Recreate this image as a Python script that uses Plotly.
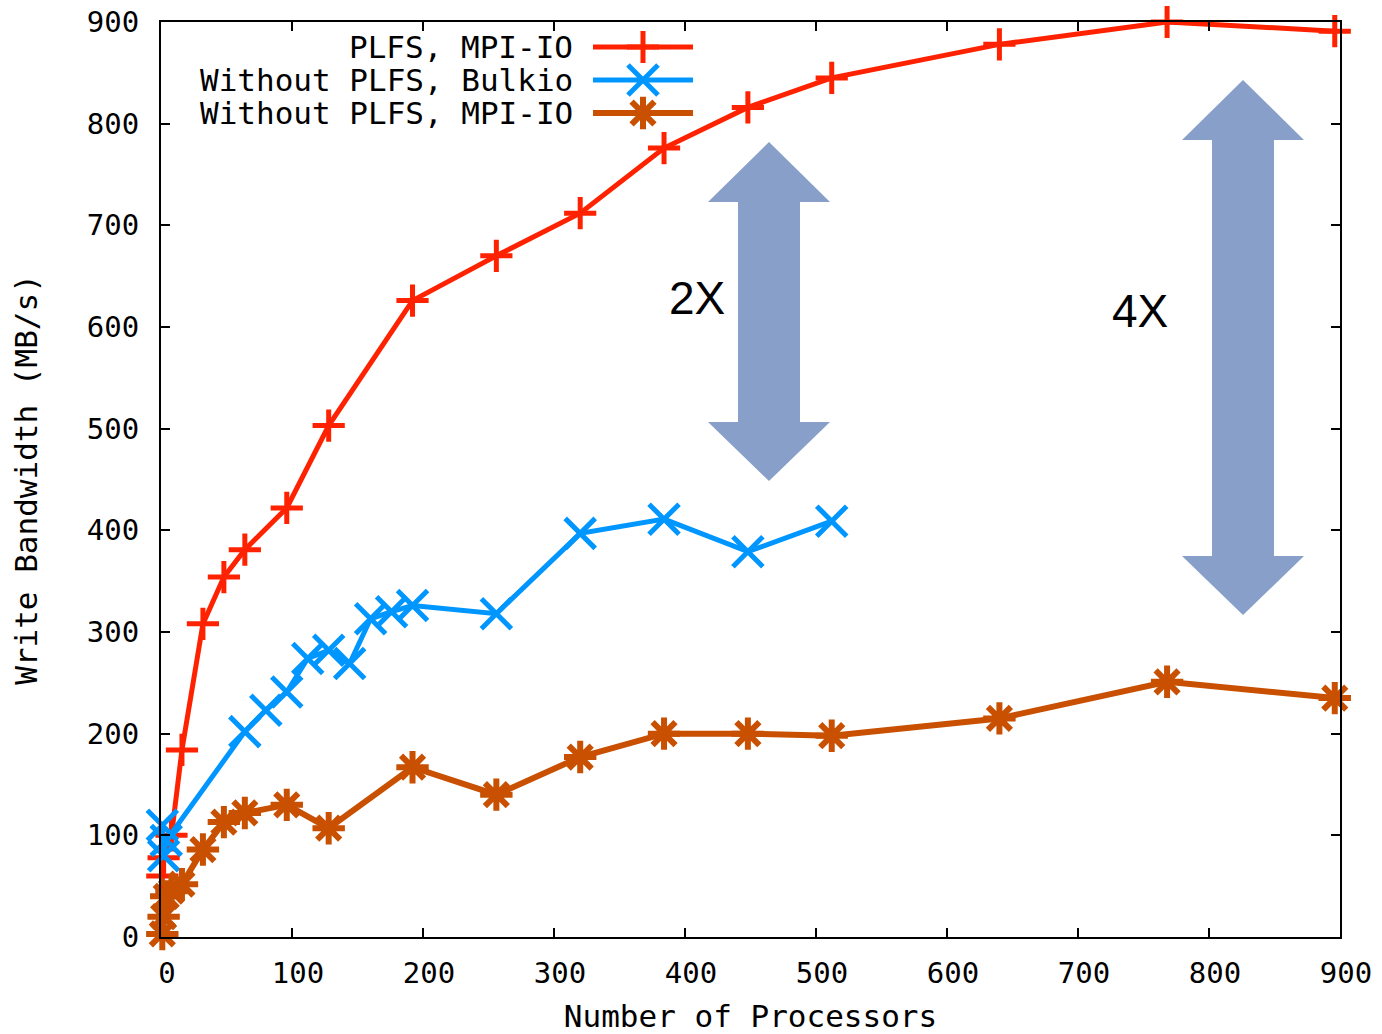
import plotly.graph_objects as go

# ---------------- data ----------------
plfs_procs = [1, 2, 8, 16, 32, 48, 64, 96, 128, 192, 256, 320, 384, 448, 512, 640, 768, 896]
plfs_bw = [60, 78, 100, 184, 308, 354, 381, 422, 503, 626, 670, 712, 776, 816, 845, 878, 900, 891]

bulkio_procs = [1, 2, 4, 64, 80, 96, 112, 128, 144, 160, 176, 192, 256, 320, 384, 448, 512]
bulkio_bw = [110, 80, 95, 202, 223, 241, 274, 282, 269, 313, 320, 326, 318, 397, 411, 379, 409]

mpiio_procs = [1, 2, 4, 8, 16, 32, 48, 64, 96, 128, 192, 256, 320, 384, 448, 512, 640, 768, 896]
mpiio_bw = [3, 20, 40, 45, 52, 86, 113, 122, 130, 107, 167, 140, 177, 200, 200, 198, 215, 251, 235]

series_names = ["PLFS, MPI-IO", "Without PLFS, Bulkio", "Without PLFS, MPI-IO"]
tick_vals = [0, 100, 200, 300, 400, 500, 600, 700, 800, 900]
x_title = "Number of Processors"
y_title = "Write Bandwidth (MB/s)"
ratio_labels = ["2X", "4X"]

# ---------------- styles ----------------
RED = "#ff2200"
BLUE = "#0096ff"
ORANGE = "#c85000"
ARROW = "#879fc9"
MONO = "DejaVu Sans Mono"

W, H = 1382, 1034
L, R, T, B = 161, 1340, 22, 937   # plot area in pixels


def px(xp):
    return (xp - L) / (R - L)


def py(yp):
    return (B - yp) / (B - T)


styles = [
    dict(color=RED, symbol="cross-thin", size=23, lw=5),
    dict(color=BLUE, symbol="x-thin", size=30, lw=5),
    dict(color=ORANGE, symbol="asterisk", size=27, lw=6),
]
datasets = [(plfs_procs, plfs_bw), (bulkio_procs, bulkio_bw), (mpiio_procs, mpiio_bw)]

fig = go.Figure()
for (xs, ys), name, st in zip(datasets, series_names, styles):
    fig.add_trace(go.Scatter(
        x=xs, y=ys, mode="lines+markers", name=name,
        line=dict(color=st["color"], width=st["lw"]),
        marker=dict(symbol=st["symbol"], size=st["size"],
                    line=dict(color=st["color"], width=st["lw"])),
        cliponaxis=False, showlegend=False,
    ))

# ---------------- custom legend (text left of sample, like gnuplot) ----------------
legend_rows = [47, 80, 113]
for name, st, row in zip(series_names, styles, legend_rows):
    fig.add_trace(go.Scatter(
        x=[px(593), px(643), px(693)], y=[py(row)] * 3,
        mode="lines", line=dict(color=st["color"], width=st["lw"]),
        xaxis="x2", yaxis="y2", showlegend=False, hoverinfo="skip",
    ))
    fig.add_trace(go.Scatter(
        x=[px(643)], y=[py(row)], mode="markers",
        marker=dict(symbol=st["symbol"], size=st["size"],
                    line=dict(color=st["color"], width=st["lw"])),
        xaxis="x2", yaxis="y2", showlegend=False, hoverinfo="skip",
        cliponaxis=False,
    ))
    fig.add_annotation(
        x=px(575), y=py(row), xref="paper", yref="paper",
        text=name, showarrow=False, xanchor="right", yanchor="middle",
        font=dict(family=MONO, size=31, color="black"),
    )


# ---------------- double-headed block arrows ----------------
def arrow_path(cx, head_half, shaft_half, top, head_top_base, head_bot_base, bottom):
    pts = [
        (cx, top),
        (cx + head_half, head_top_base),
        (cx + shaft_half, head_top_base),
        (cx + shaft_half, head_bot_base),
        (cx + head_half, head_bot_base),
        (cx, bottom),
        (cx - head_half, head_bot_base),
        (cx - shaft_half, head_bot_base),
        (cx - shaft_half, head_top_base),
        (cx - head_half, head_top_base),
    ]
    return "M " + " L ".join(f"{px(a):.5f},{py(b):.5f}" for a, b in pts) + " Z"


fig.add_shape(type="path", xref="paper", yref="paper",
              path=arrow_path(769, 61, 31, 142, 202, 422, 481),
              fillcolor=ARROW, line=dict(width=0), layer="above")
fig.add_shape(type="path", xref="paper", yref="paper",
              path=arrow_path(1243, 61, 31, 80, 140, 556, 615),
              fillcolor=ARROW, line=dict(width=0), layer="above")

for lbl, (ax, ay) in zip(ratio_labels, [(697, 298), (1140, 311)]):
    fig.add_annotation(x=px(ax), y=py(ay), xref="paper", yref="paper",
                       text=lbl, showarrow=False, xanchor="center", yanchor="middle",
                       font=dict(family="Liberation Sans", size=46, color="black"))

axis_common = dict(
    showgrid=False, zeroline=False, showline=True, linecolor="black", linewidth=2,
    mirror="ticks", ticks="inside", ticklen=9, tickwidth=2, tickcolor="black",
    tickfont=dict(family=MONO, size=29, color="black"),
    tickvals=tick_vals, ticktext=[str(v) for v in tick_vals],
    automargin=False,
)

fig.update_layout(
    width=W, height=H,
    margin=dict(l=L, r=W - R, t=T, b=H - B, autoexpand=False),
    paper_bgcolor="white", plot_bgcolor="white",
    showlegend=False,
    xaxis=dict(range=[0, 900], title=dict(text=x_title, standoff=32,
               font=dict(family=MONO, size=31, color="black")),
               ticklabelstandoff=9, ticklabelshift=6, **axis_common),
    yaxis=dict(range=[0, 900], title=dict(text=y_title, standoff=40,
               font=dict(family=MONO, size=31, color="black")),
               ticklabelstandoff=14, **axis_common),
    xaxis2=dict(overlaying="x", range=[0, 1], visible=False, fixedrange=True),
    yaxis2=dict(overlaying="y", range=[0, 1], visible=False, fixedrange=True),
)

fig.write_html("out.html")
